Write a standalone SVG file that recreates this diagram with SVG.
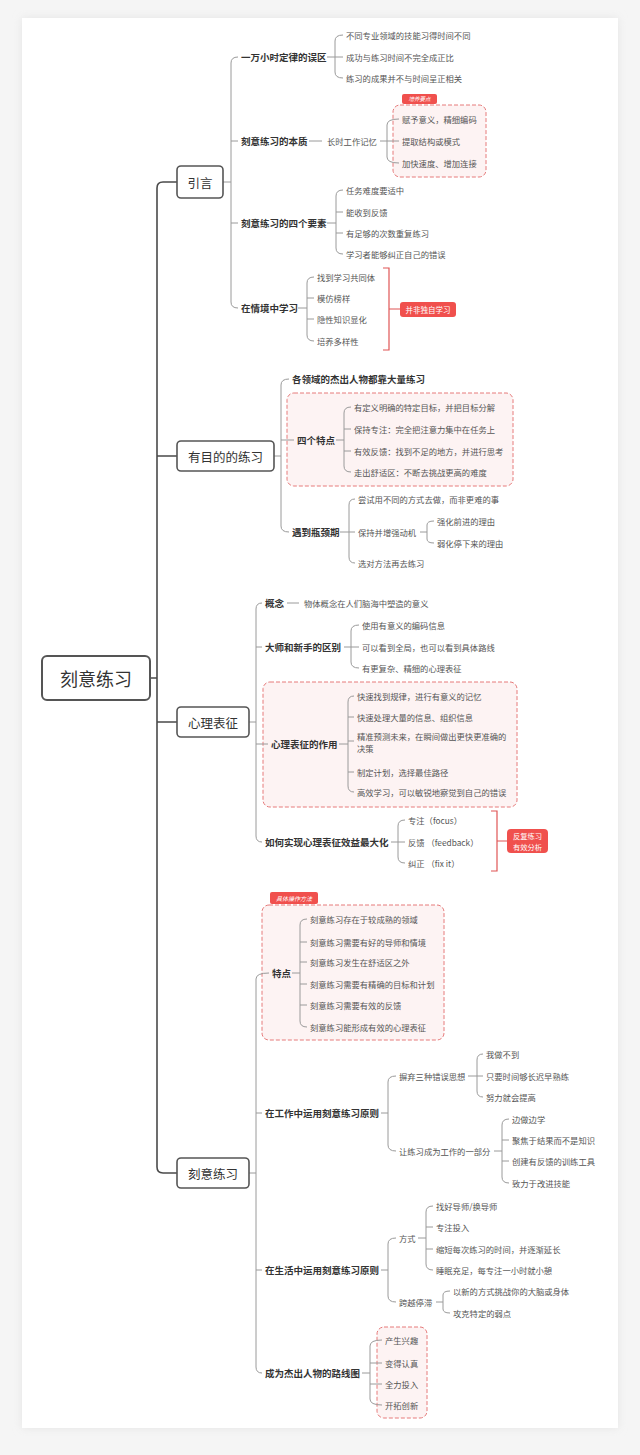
<svg xmlns="http://www.w3.org/2000/svg" width="640" height="1455" viewBox="0 0 640 1455">
<defs>
<style>
text{font-family:"Noto Sans CJK SC","Noto Sans",sans-serif;dominant-baseline:central}
.t0{font-size:18px;fill:#333;text-anchor:middle}
.l1t{font-size:12.5px;fill:#333;text-anchor:middle}
.l2t{font-size:9.5px;font-weight:bold;fill:#333}
.l3t{font-size:8.3px;fill:#555}
.box0{fill:#fff;stroke:#555;stroke-width:2}
.box1{fill:#fff;stroke:#555;stroke-width:1.6}
.c{fill:none;stroke:#9a9a9a;stroke-width:1}
.trunk{fill:none;stroke:#4a4a4a;stroke-width:1.6}
.dash{fill:#fdf3f3;stroke:#e67a7a;stroke-width:1;stroke-dasharray:4 2}
.badge{fill:#f0504d}
.bt{fill:#fff;text-anchor:middle}
.rb{fill:none;stroke:#e05555;stroke-width:1.2}
</style>
<filter id="sh" x="-5%" y="-5%" width="110%" height="110%"><feGaussianBlur stdDeviation="4"/></filter>
</defs>
<rect width="640" height="1455" fill="#f5f5f5"/>
<rect x="22" y="18" width="596" height="1410" fill="#e4e4e4" filter="url(#sh)"/>
<rect x="22" y="18" width="596" height="1410" fill="#fff"/>

<!-- highlight boxes -->
<g id="highlights">
<rect class="dash" x="393" y="105" width="93" height="72" rx="7"/>
<rect class="badge" x="402" y="94" width="35" height="10" rx="2"/>
<text class="bt" x="419.5" y="99" font-size="5.5" font-style="italic">培养要点</text>
<rect class="dash" x="287" y="393" width="226" height="93" rx="7"/>
<rect class="dash" x="263" y="682" width="254" height="125" rx="7"/>
<rect class="dash" x="262" y="905" width="182" height="135" rx="7"/>
<rect class="badge" x="270" y="892" width="48" height="12" rx="2"/>
<text class="bt" x="294" y="898" font-size="6" font-style="italic">具体操作方法</text>
<rect class="dash" x="377" y="1327" width="50" height="91" rx="7"/>
</g>

<g id="connectors">
<path class="trunk" d="M177 182 H163 Q157 182 157 188 V1167 Q157 1173 163 1173 H177 M157 456 H177 M157 722 H177 M150 678 H157"/>
<!-- 引言 -->
<path class="c" d="M223 182 H231 M238 57 Q231 57 231 63 V302 Q231 308 238 308 M231 141 H238 M231 223 H238"/>
<path class="c" d="M327 57 H335 M343 35 Q335 35 335 41 V72 Q335 78 343 78 M335 57 H343"/>
<path class="c" d="M309 141 H322 M380 141 H387 M399 119 Q387 119 387 125 V157 Q387 163 399 163 M387 141 H399"/>
<path class="c" d="M327 223 H336 M343 190 Q336 190 336 196 V248 Q336 254 343 254 M336 212 H343 M336 233 H343"/>
<path class="c" d="M298 308 H307 M314 277 Q307 277 307 283 V335 Q307 341 314 341 M307 298 H314 M307 319 H314"/>
<path class="rb" d="M383 268 H389 V350 H383 M389 309 H400"/>
<!-- 有目的的练习 -->
<path class="c" d="M274 456 H281 M289 379 Q281 379 281 385 V526 Q281 532 289 532 M281 440 H294"/>
<path class="c" d="M336 440 H344 M351 407 Q344 407 344 413 V466 Q344 472 351 472 M344 429 H351 M344 451 H351"/>
<path class="c" d="M340 532 H349 M355 499 Q349 499 349 505 V557 Q349 563 355 563 M349 532 H355"/>
<path class="c" d="M420 532 H427 M434 521 Q427 521 427 525 V539 Q427 543 434 543"/>
<!-- 心理表征 -->
<path class="c" d="M249 722 H256 M262 603 Q256 603 256 609 V836 Q256 842 262 842 M256 647 H262 M256 744 H268"/>
<path class="c" d="M287 603 H299"/>
<path class="c" d="M344 647 H351 M359 625 Q351 625 351 631 V662 Q351 668 359 668 M351 647 H359"/>
<path class="c" d="M339 744 H348 M354 696 Q348 696 348 702 V786 Q348 792 354 792 M348 717 H354 M348 741 H354 M348 772 H354"/>
<path class="c" d="M391 842 H398 M405 820 Q398 820 398 826 V857 Q398 863 405 863 M398 842 H405"/>
<path class="rb" d="M491 811 H497 V871 H491 M497 841 H507"/>
<!-- 刻意练习 -->
<path class="c" d="M249 1173 H256 M269 973 Q256 973 256 979 V1367 Q256 1373 262 1373 M256 1113 H262 M256 1270 H262"/>
<path class="c" d="M292 973 H300 M307 919 Q300 919 300 925 V1021 Q300 1027 307 1027 M300 942 H307 M300 962 H307 M300 984 H307 M300 1005 H307"/>
<path class="c" d="M381 1113 H388 M396 1076 Q388 1076 388 1082 V1145 Q388 1151 396 1151"/>
<path class="c" d="M468 1076 H477 M483 1054 Q477 1054 477 1060 V1091 Q477 1097 483 1097 M477 1076 H483"/>
<path class="c" d="M494 1151 H502 M509 1119 Q502 1119 502 1125 V1177 Q502 1183 509 1183 M502 1140 H509 M502 1161 H509"/>
<path class="c" d="M381 1270 H388 M396 1238 Q388 1238 388 1244 V1296 Q388 1302 396 1302"/>
<path class="c" d="M418 1238 H426 M433 1206 Q426 1206 426 1212 V1264 Q426 1270 433 1270 M426 1227 H433 M426 1249 H433"/>
<path class="c" d="M436 1302 H443 M450 1291 Q443 1291 443 1295 V1309 Q443 1313 450 1313"/>
<path class="c" d="M362 1373 H370 M382 1340 Q370 1340 370 1346 V1399 Q370 1405 382 1405 M370 1363 H382 M370 1384 H382"/>
</g>

<g id="root"><rect class="box0" x="42" y="656" width="108" height="44" rx="5"/><text class="t0" x="96" y="678">刻意练习</text></g>

<g id="yinyan"><rect class="box1" x="177" y="166" width="46" height="32" rx="4"/><text class="l1t" x="200" y="182">引言</text></g>
<g id="n-wuqu"><text class="l2t" x="241" y="57">一万小时定律的误区</text></g>
<g id="n-wuqu-c"><text class="l3t" x="346" y="35">不同专业领域的技能习得时间不同</text><text class="l3t" x="346" y="57">成功与练习时间不完全成正比</text><text class="l3t" x="346" y="78">练习的成果并不与时间呈正相关</text></g>
<g id="n-benzhi"><text class="l2t" x="241" y="141">刻意练习的本质</text></g>
<g id="n-changshi"><text class="l3t" x="327" y="141">长时工作记忆</text></g>
<g id="n-changshi-c"><text class="l3t" x="402" y="119">赋予意义，精细编码</text><text class="l3t" x="402" y="141">提取结构或模式</text><text class="l3t" x="402" y="163">加快速度、增加连接</text></g>
<g id="n-siyaosu"><text class="l2t" x="241" y="223">刻意练习的四个要素</text></g>
<g id="n-siyaosu-c"><text class="l3t" x="346" y="190">任务难度要适中</text><text class="l3t" x="346" y="212">能收到反馈</text><text class="l3t" x="346" y="233">有足够的次数重复练习</text><text class="l3t" x="346" y="254">学习者能够纠正自己的错误</text></g>
<g id="n-qingjing"><text class="l2t" x="241" y="308">在情境中学习</text></g>
<g id="n-qingjing-c"><text class="l3t" x="317" y="277">找到学习共同体</text><text class="l3t" x="317" y="298">模仿榜样</text><text class="l3t" x="317" y="319">隐性知识显化</text><text class="l3t" x="317" y="341">培养多样性</text></g>
<g id="n-bingfei"><rect class="badge" x="400" y="302" width="56" height="15" rx="3"/><text class="bt" x="428" y="309.5" font-size="7.5">并非独自学习</text></g>

<g id="youmudi"><rect class="box1" x="177" y="441" width="97" height="30" rx="4"/><text class="l1t" x="225.5" y="456">有目的的练习</text></g>
<g id="n-jieshu"><text class="l2t" x="292" y="379">各领域的杰出人物都靠大量练习</text></g>
<g id="n-tedian4"><text class="l2t" x="297" y="440">四个特点</text></g>
<g id="n-tedian4-c"><text class="l3t" x="354" y="407">有定义明确的特定目标，并把目标分解</text><text class="l3t" x="354" y="429">保持专注：完全把注意力集中在任务上</text><text class="l3t" x="354" y="451">有效反馈：找到不足的地方，并进行思考</text><text class="l3t" x="354" y="472">走出舒适区：不断去挑战更高的难度</text></g>
<g id="n-pingjing"><text class="l2t" x="292" y="532">遇到瓶颈期</text></g>
<g id="n-pingjing-c"><text class="l3t" x="358" y="499">尝试用不同的方式去做，而非更难的事</text><text class="l3t" x="358" y="532">保持并增强动机</text><text class="l3t" x="358" y="563">选对方法再去练习</text></g>
<g id="n-dongji-c"><text class="l3t" x="437" y="521">强化前进的理由</text><text class="l3t" x="437" y="543">弱化停下来的理由</text></g>

<g id="xinli"><rect class="box1" x="177" y="707" width="72" height="30" rx="4"/><text class="l1t" x="213" y="722">心理表征</text></g>
<g id="n-gainian"><text class="l2t" x="265" y="603">概念</text><text class="l3t" x="304" y="603">物体概念在人们脑海中塑造的意义</text></g>
<g id="n-dashi"><text class="l2t" x="265" y="647">大师和新手的区别</text></g>
<g id="n-dashi-c"><text class="l3t" x="362" y="625">使用有意义的编码信息</text><text class="l3t" x="362" y="647">可以看到全局，也可以看到具体路线</text><text class="l3t" x="362" y="668">有更复杂、精细的心理表征</text></g>
<g id="n-zuoyong"><text class="l2t" x="271" y="744">心理表征的作用</text></g>
<g id="n-zuoyong-c"><text class="l3t" x="357" y="696">快速找到规律，进行有意义的记忆</text><text class="l3t" x="357" y="717">快速处理大量的信息、组织信息</text><text class="l3t" x="357" y="736">精准预测未来，在瞬间做出更快更准确的</text><text class="l3t" x="357" y="748">决策</text><text class="l3t" x="357" y="772">制定计划，选择最佳路径</text><text class="l3t" x="357" y="792">高效学习，可以敏锐地察觉到自己的错误</text></g>
<g id="n-ruhe"><text class="l2t" x="265" y="842">如何实现心理表征效益最大化</text></g>
<g id="n-ruhe-c"><text class="l3t" x="408" y="820">专注（focus）</text><text class="l3t" x="408" y="842">反馈 （feedback）</text><text class="l3t" x="408" y="863">纠正 （fix it）</text></g>
<g id="n-fanfu"><rect class="badge" x="507" y="829" width="41" height="24" rx="4"/><text class="bt" x="527.5" y="836" font-size="7.3">反复练习</text><text class="bt" x="527.5" y="846.5" font-size="7.3">有效分析</text></g>

<g id="keyi"><rect class="box1" x="177" y="1158" width="72" height="30" rx="4"/><text class="l1t" x="213" y="1173">刻意练习</text></g>
<g id="n-tedian"><text class="l2t" x="272" y="973">特点</text></g>
<g id="n-tedian-c"><text class="l3t" x="310" y="919">刻意练习存在于较成熟的领域</text><text class="l3t" x="310" y="942">刻意练习需要有好的导师和情境</text><text class="l3t" x="310" y="962">刻意练习发生在舒适区之外</text><text class="l3t" x="310" y="984">刻意练习需要有精确的目标和计划</text><text class="l3t" x="310" y="1005">刻意练习需要有效的反馈</text><text class="l3t" x="310" y="1027">刻意练习能形成有效的心理表征</text></g>
<g id="n-gongzuo"><text class="l2t" x="265" y="1113">在工作中运用刻意练习原则</text></g>
<g id="n-binqi"><text class="l3t" x="399" y="1076">摒弃三种错误思想</text></g>
<g id="n-binqi-c"><text class="l3t" x="486" y="1054">我做不到</text><text class="l3t" x="486" y="1076">只要时间够长迟早熟练</text><text class="l3t" x="486" y="1097">努力就会提高</text></g>
<g id="n-rang"><text class="l3t" x="399" y="1151">让练习成为工作的一部分</text></g>
<g id="n-rang-c"><text class="l3t" x="512" y="1119">边做边学</text><text class="l3t" x="512" y="1140">聚焦于结果而不是知识</text><text class="l3t" x="512" y="1161">创建有反馈的训练工具</text><text class="l3t" x="512" y="1183">致力于改进技能</text></g>
<g id="n-shenghuo"><text class="l2t" x="265" y="1270">在生活中运用刻意练习原则</text></g>
<g id="n-fangshi"><text class="l3t" x="399" y="1238">方式</text></g>
<g id="n-fangshi-c"><text class="l3t" x="436" y="1206">找好导师/换导师</text><text class="l3t" x="436" y="1227">专注投入</text><text class="l3t" x="436" y="1249">缩短每次练习的时间，并逐渐延长</text><text class="l3t" x="436" y="1270">睡眠充足，每专注一小时就小憩</text></g>
<g id="n-kuayue"><text class="l3t" x="399" y="1302">跨越停滞</text></g>
<g id="n-kuayue-c"><text class="l3t" x="453" y="1291">以新的方式挑战你的大脑或身体</text><text class="l3t" x="453" y="1313">攻克特定的弱点</text></g>
<g id="n-luxian"><text class="l2t" x="265" y="1373">成为杰出人物的路线图</text></g>
<g id="n-luxian-c"><text class="l3t" x="385" y="1340">产生兴趣</text><text class="l3t" x="385" y="1363">变得认真</text><text class="l3t" x="385" y="1384">全力投入</text><text class="l3t" x="385" y="1405">开拓创新</text></g>
</svg>
